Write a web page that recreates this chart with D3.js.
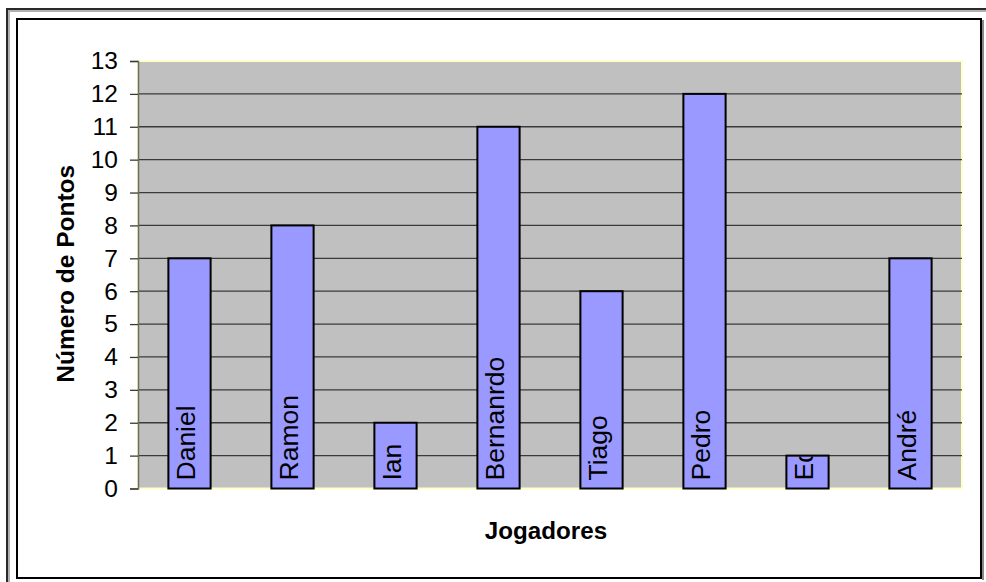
<!DOCTYPE html>
<html>
<head>
<meta charset="utf-8">
<script src="https://cdn.jsdelivr.net/npm/d3@7"></script>
<style>
  html, body { margin: 0; padding: 0; background: #fff; }
  svg { display: block; font-family: "Liberation Sans", Arial, sans-serif; }
</style>
</head>
<body>
<svg id="chart" width="986" height="582"></svg>
<script>
const categories = ["Daniel", "Ramon", "Ian", "Bernanrdo", "Tiago", "Pedro", "Ed", "André"];
const values = [7, 8, 2, 11, 6, 12, 1, 7];
const yTicks = [0, 1, 2, 3, 4, 5, 6, 7, 8, 9, 10, 11, 12, 13];
const yTitle = "Número de Pontos";
const xTitle = "Jogadores";

const svg = d3.select("#chart");
const W = 986, H = 582;
const plot = { left: 138, right: 962, top: 61, bottom: 488.5 };

// outer frame
svg.append("line").attr("x1", 6).attr("x2", W).attr("y1", 9).attr("y2", 9)
  .attr("stroke", "#2a2a2a").attr("stroke-width", 2);
svg.append("line").attr("x1", 7).attr("x2", 7).attr("y1", 8).attr("y2", H)
  .attr("stroke", "#2a2a2a").attr("stroke-width", 2);
svg.append("line").attr("x1", 9).attr("x2", W).attr("y1", 11).attr("y2", 11)
  .attr("stroke", "#b0b0b0").attr("stroke-width", 2);
svg.append("line").attr("x1", 9).attr("x2", 9).attr("y1", 10).attr("y2", H)
  .attr("stroke", "#b0b0b0").attr("stroke-width", 2);
svg.append("rect").attr("x", 17).attr("y", 19).attr("width", 964).attr("height", 559)
  .attr("fill", "#fff").attr("stroke", "#000").attr("stroke-width", 2);
svg.append("line").attr("x1", 983).attr("x2", 983).attr("y1", 20).attr("y2", 580)
  .attr("stroke", "#888").attr("stroke-width", 2);

const x = d3.scaleBand().domain(categories).range([plot.left, plot.right]).paddingInner(0.59).paddingOuter(0.295);
const y = d3.scaleLinear().domain([0, 13]).range([plot.bottom, plot.top]);

// plot background
svg.append("rect").attr("x", plot.left).attr("y", plot.top)
  .attr("width", plot.right - plot.left).attr("height", plot.bottom - plot.top)
  .attr("fill", "#C0C0C0").attr("stroke", "#FFFFC8").attr("stroke-width", 2);

// gridlines
svg.append("g").selectAll("line").data(yTicks.filter(d => d > 0 && d < 13)).join("line")
  .attr("x1", plot.left).attr("x2", plot.right)
  .attr("y1", d => y(d)).attr("y2", d => y(d))
  .attr("stroke", "#3a3a3a").attr("stroke-width", 1.3);

// y axis
const yAxis = d3.axisLeft(y).tickValues(yTicks).tickSize(8).tickPadding(12).tickFormat(d3.format("d"));
const gy = svg.append("g").attr("transform", `translate(${plot.left},0)`).call(yAxis);
gy.select(".domain").attr("stroke", "#6e6e5a").attr("stroke-width", 1.5);
gy.selectAll(".tick line").attr("stroke", "#3a3a3a").attr("stroke-width", 1.3);
gy.selectAll(".tick text").attr("font-size", 24.5).attr("fill", "#000")
  .attr("font-family", "'Liberation Sans', Arial, sans-serif");

// bars
const bars = svg.append("g");
bars.selectAll("rect").data(categories).join("rect")
  .attr("x", d => x(d)).attr("width", x.bandwidth())
  .attr("y", (d, i) => y(values[i])).attr("height", (d, i) => y(0) - y(values[i]))
  .attr("fill", "#9999FF").attr("stroke", "#000").attr("stroke-width", 2);

// clip paths for labels
const defs = svg.append("defs");
categories.forEach((c, i) => {
  defs.append("clipPath").attr("id", "clip" + i).append("rect")
    .attr("x", x(c)).attr("width", x.bandwidth())
    .attr("y", y(values[i]) + 1).attr("height", y(0) - y(values[i]) - 1);
});

svg.append("g").selectAll("g").data(categories).join("g")
  .attr("clip-path", (d, i) => `url(#clip${i})`)
  .append("text")
  .attr("transform", d => `translate(${x(d) + x.bandwidth() / 2 + 5},${plot.bottom - 8}) rotate(-90)`)
  .attr("font-size", 26.5).attr("fill", "#000")
  .text(d => d);

// titles
svg.append("text").attr("transform", `translate(74,${(plot.top + plot.bottom) / 2 - 1}) rotate(-90)`)
  .attr("text-anchor", "middle").attr("font-size", 24.5).attr("font-weight", "bold").text(yTitle);
svg.append("text").attr("x", 546).attr("y", 539)
  .attr("text-anchor", "middle").attr("font-size", 24.2).attr("font-weight", "bold").text(xTitle);
</script>
</body>
</html>
